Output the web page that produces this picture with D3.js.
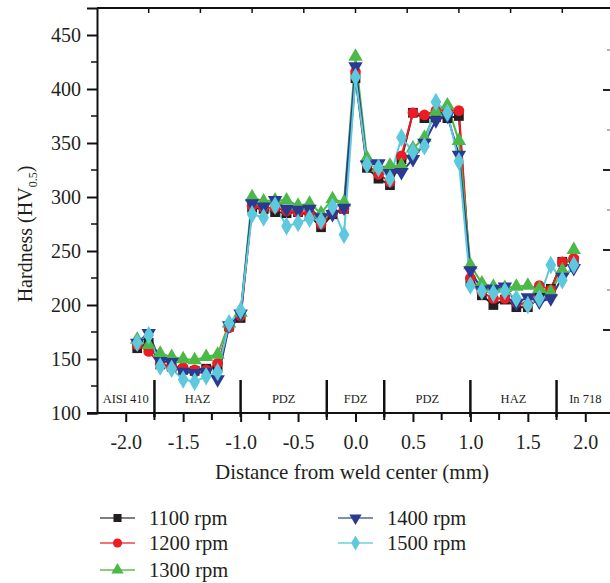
<!DOCTYPE html>
<html>
<head>
<meta charset="utf-8">
<script src="https://cdn.jsdelivr.net/npm/d3@7/dist/d3.min.js"></script>
<style>
  body { margin: 0; background: #fff; }
  svg { font-family: "Liberation Serif", "DejaVu Serif", serif; }
</style>
</head>
<body>
<svg id="chart" width="610" height="583"></svg>
<script>
// distance from weld centre (mm), shared by all series
const distance = [-1.9, -1.8, -1.7, -1.6, -1.5, -1.4, -1.3, -1.2, -1.1, -1.0,
  -0.9, -0.8, -0.7, -0.6, -0.5, -0.4, -0.3, -0.2, -0.1, 0.0,
  0.1, 0.2, 0.3, 0.4, 0.5, 0.6, 0.7, 0.8, 0.9, 1.0,
  1.1, 1.2, 1.3, 1.4, 1.5, 1.6, 1.7, 1.8, 1.9];

const hv1100 = [160, 165, 145, 143, 140, 139, 141, 143, 180, 188, 290, 289, 286, 285, 286, 283, 272, 284, 289, 410,
  327, 317, 311, 335, 378, 373, 374, 373, 375, 222, 209, 200, 205, 198, 198, 207, 215, 240, 241];
const hv1200 = [163, 157, 145, 142, 142, 140, 140, 146, 179, 190, 292, 290, 290, 287, 286, 285, 275, 285, 289, 416,
  330, 321, 314, 338, 378, 376, 380, 380, 380, 225, 212, 206, 206, 202, 200, 218, 214, 240, 243];
const hv1300 = [168, 163, 155, 152, 150, 149, 152, 154, 183, 193, 300, 296, 297, 297, 292, 294, 285, 298, 295, 430,
  336, 327, 329, 329, 345, 355, 379, 385, 352, 237, 220, 217, 216, 217, 218, 215, 212, 232, 251];
const hv1400 = [165, 174, 148, 147, 138, 137, 138, 131, 181, 192, 294, 291, 297, 289, 288, 289, 281, 284, 290, 421,
  330, 331, 322, 323, 335, 350, 371, 375, 339, 232, 214, 215, 217, 202, 207, 203, 206, 226, 234];
const hv1500 = [165, 172, 143, 141, 131, 129, 134, 138, 183, 195, 284, 281, 292, 273, 276, 280, 278, 291, 265, 411,
  330, 327, 317, 355, 342, 347, 388, 378, 333, 218, 213, 211, 213, 206, 200, 206, 237, 223, 237];

const seriesNames = ["1100 rpm", "1200 rpm", "1300 rpm", "1400 rpm", "1500 rpm"];
const seriesValues = [hv1100, hv1200, hv1300, hv1400, hv1500];

const xTicks = [-2.0, -1.5, -1.0, -0.5, 0.0, 0.5, 1.0, 1.5, 2.0];
const xMinorTicks = [-2.0, -1.75, -1.5, -1.25, -1.0, -0.75, -0.5, -0.25, 0, 0.25, 0.5, 0.75, 1.0, 1.25, 1.5, 1.75, 2.0];
const topTicks = [-1.8, -1.35, -0.9, -0.45, 0, 0.45, 0.9, 1.35, 1.8];
const yTicks = [100, 150, 200, 250, 300, 350, 400, 450];
const yMinorTicks = [125, 175, 225, 275, 325, 375, 425];

// zone boundaries and labels along the bottom
const zoneBounds = [-1.75, -1.0, -0.25, 0.25, 1.0, 1.75];
const zoneLabels = ["AISI 410", "HAZ", "PDZ", "FDZ", "PDZ", "HAZ", "In 718"];
const zoneCentres = [-2.0, -1.375, -0.625, 0, 0.625, 1.375, 2.0];

const svg = d3.select("#chart");

const x = d3.scaleLinear().domain([-2.25, 2.25]).range([97, 614]);
const y = d3.scaleLinear().domain([100, 475]).range([413, 8]);

const colors = ["#231f20", "#ed1c24", "#4cb848", "#2b3990", "#5ec8dc"];
const legendLine = ["#555555", "#ee4444", "#66bb55", "#5566aa", "#6fcfe0"];
const symbolTypes = [d3.symbolSquare, d3.symbolCircle, d3.symbolTriangle, d3.symbolTriangle, d3.symbolDiamond];
const symbolSizes = [95, 90, 90, 90, 100];
const rot = [0, 0, 0, 180, 0];

// frame: top line with inward ticks
svg.append("line").attr("x1", x(-2.25)).attr("x2", 610)
  .attr("y1", y(475)).attr("y2", y(475))
  .attr("stroke", "#111").attr("stroke-width", 2);
svg.append("g").selectAll("line").data(topTicks).enter().append("line")
  .attr("x1", d => x(d)).attr("x2", d => x(d))
  .attr("y1", y(475)).attr("y2", y(475) + 5)
  .attr("stroke", "#111").attr("stroke-width", 1.5);

// fragment of the neighbouring panel's axis at the right edge
const nbr = d3.scaleLinear().domain([0, 1]).range([330, 250]);
const nbrMajor = [0, 1, 2, 3];
const nbrMinor = [0.5, 1.5, 2.5, 3.5];
svg.append("g").selectAll("line").data(nbrMajor).enter().append("line")
  .attr("x1", 603).attr("x2", 610).attr("y1", d => nbr(d)).attr("y2", d => nbr(d))
  .attr("stroke", "#222").attr("stroke-width", 2);
svg.append("g").selectAll("line").data(nbrMinor).enter().append("line")
  .attr("x1", 607).attr("x2", 610).attr("y1", d => nbr(d)).attr("y2", d => nbr(d))
  .attr("stroke", "#999").attr("stroke-width", 1.5);

// y axis
const yAxis = d3.axisLeft(y).tickValues(yTicks).tickSize(10).tickFormat(d3.format("d"));
const gy = svg.append("g").attr("transform", `translate(${x(-2.25)},0)`).call(yAxis);
gy.select(".domain").attr("stroke", "#111").attr("stroke-width", 2);
gy.selectAll(".tick line").attr("stroke", "#111").attr("stroke-width", 2);
gy.selectAll(".tick text").attr("font-size", 20).attr("fill", "#231f20")
  .attr("font-family", "Liberation Serif, serif").attr("x", -16);
svg.append("g").selectAll("line").data(yMinorTicks).enter().append("line")
  .attr("x1", x(-2.25) - 6).attr("x2", x(-2.25))
  .attr("y1", d => y(d)).attr("y2", d => y(d))
  .attr("stroke", "#111").attr("stroke-width", 1.5);

// x axis
const xAxis = d3.axisBottom(x).tickValues(xTicks).tickSize(9).tickFormat(d3.format(".1f"));
const gx = svg.append("g").attr("transform", `translate(0,${y(100)})`).call(xAxis);
gx.select(".domain").remove();
gx.selectAll(".tick line").attr("stroke", "#111").attr("stroke-width", 2);
gx.selectAll(".tick text").attr("font-size", 20).attr("fill", "#231f20")
  .attr("font-family", "Liberation Serif, serif").attr("dy", "1.2em")
  .text(d => d3.format(".1f")(d).replace("−", "-"));
svg.append("line").attr("x1", x(-2.25) - 10).attr("x2", 610)
  .attr("y1", y(100)).attr("y2", y(100))
  .attr("stroke", "#111").attr("stroke-width", 2);
svg.append("g").selectAll("line").data(xMinorTicks.filter(d => !xTicks.includes(d))).enter().append("line")
  .attr("x1", d => x(d)).attr("x2", d => x(d))
  .attr("y1", y(100)).attr("y2", y(100) + 7)
  .attr("stroke", "#111").attr("stroke-width", 2);

// zone separators and labels
svg.append("g").selectAll("line").data(zoneBounds).enter().append("line")
  .attr("x1", d => x(d)).attr("x2", d => x(d))
  .attr("y1", y(100) - 33).attr("y2", y(100) + 4)
  .attr("stroke", "#111").attr("stroke-width", 2.5);
svg.append("g").selectAll("text").data(zoneLabels).enter().append("text")
  .attr("x", (d, i) => x(zoneCentres[i]))
  .attr("y", y(100) - 10)
  .attr("text-anchor", "middle").attr("font-size", 12.5).attr("fill", "#231f20")
  .text(d => d);

// series
const line = d3.line().x(d => x(d[0])).y(d => y(d[1]));
seriesValues.forEach((vals, i) => {
  const pts = distance.map((d, j) => [d, vals[j]]);
  svg.append("path").datum(pts).attr("d", line)
    .attr("fill", "none").attr("stroke", colors[i]).attr("stroke-width", 2)
    .attr("stroke-linejoin", "round");
});
seriesValues.forEach((vals, i) => {
  const pts = distance.map((d, j) => [d, vals[j]]);
  const sym = d3.symbol().type(symbolTypes[i]).size(symbolSizes[i]);
  svg.append("g").selectAll("path").data(pts).enter().append("path")
    .attr("d", sym)
    .attr("transform", d => `translate(${x(d[0])},${y(d[1])}) rotate(${rot[i]})`)
    .attr("fill", colors[i]);
});

// axis titles
svg.append("text").attr("x", 352).attr("y", 479)
  .attr("text-anchor", "middle").attr("font-size", 21).attr("fill", "#231f20")
  .text("Distance from weld center (mm)");
const yt = svg.append("text")
  .attr("transform", "translate(32,234) rotate(-90)")
  .attr("text-anchor", "middle").attr("font-size", 20).attr("fill", "#231f20");
yt.append("tspan").text("Hardness (HV");
yt.append("tspan").attr("font-size", 12).attr("dy", 5).text("0.5");
yt.append("tspan").attr("dy", -5).text(")");

// legend
const legendPos = [[100, 518], [100, 543], [100, 570], [338, 518], [338, 543]];
const lg = svg.append("g").selectAll("g").data(seriesNames).enter().append("g")
  .attr("transform", (d, i) => `translate(${legendPos[i][0]},${legendPos[i][1]})`);
lg.append("line").attr("x1", 0).attr("x2", 35).attr("y1", 0).attr("y2", 0)
  .attr("stroke", (d, i) => legendLine[i]).attr("stroke-width", 1.5);
lg.append("path")
  .attr("d", (d, i) => d3.symbol().type(symbolTypes[i]).size(65)())
  .attr("transform", (d, i) => `translate(17.5,0) rotate(${rot[i]})`)
  .attr("fill", (d, i) => colors[i]);
lg.append("text").attr("x", 49).attr("y", 6.5)
  .attr("font-size", 20.5).attr("fill", "#231f20").text(d => d);
</script>
</body>
</html>
